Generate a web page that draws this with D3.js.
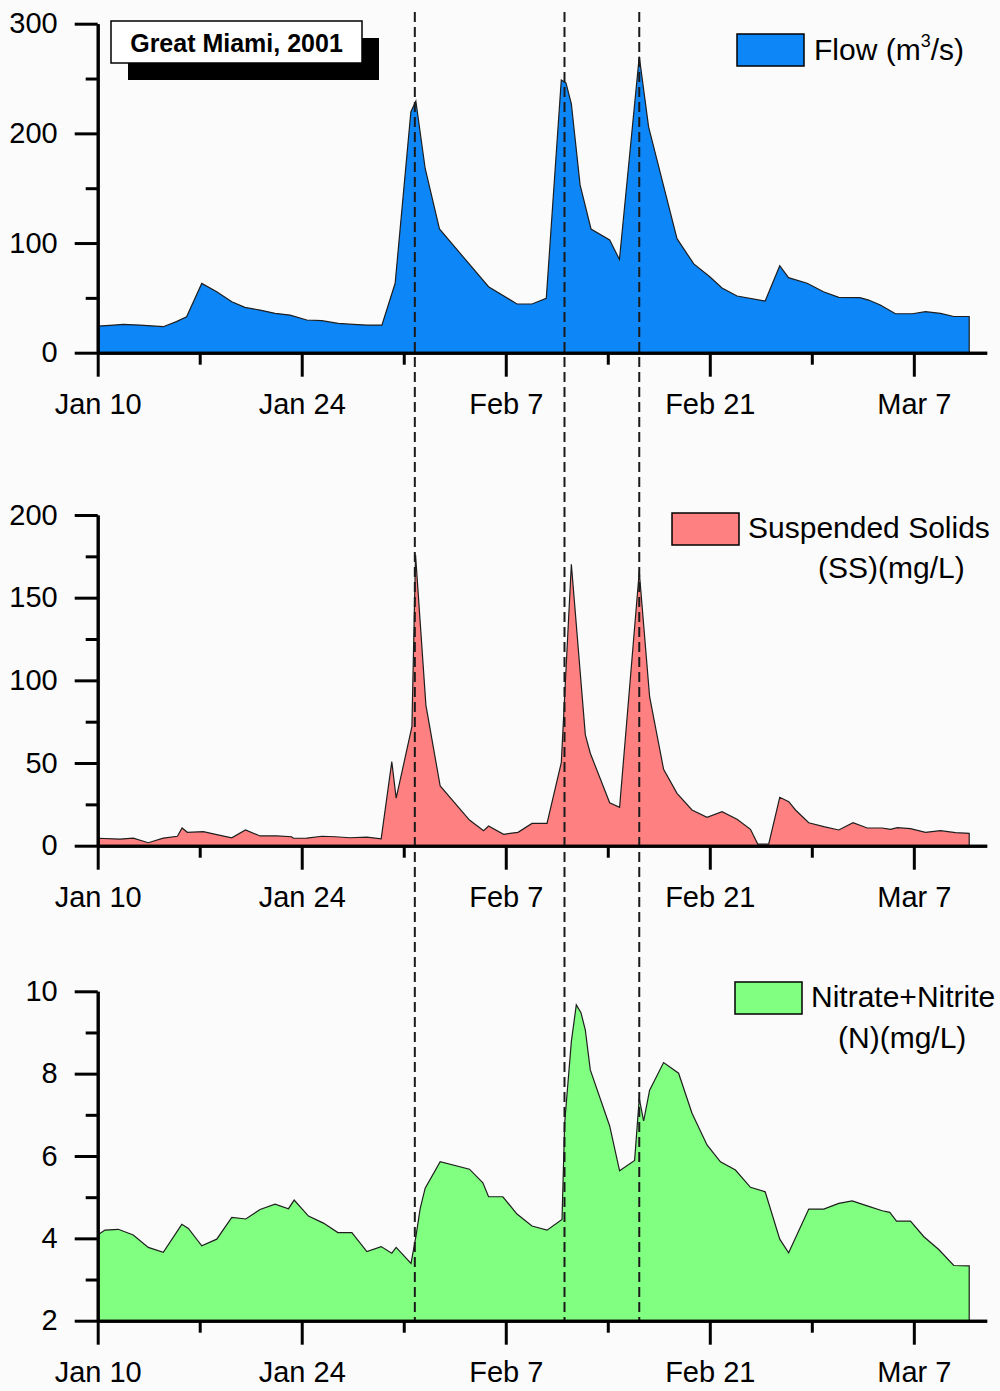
<!DOCTYPE html>
<html lang="en">
<head>
  <meta charset="UTF-8">
  <title>Great Miami, 2001</title>
  <style>
    body { margin: 0; background: #fbfbfb; }
    svg { display: block; font-family: "Liberation Sans", Arial, sans-serif; }
    .axis path, .axis line { stroke: #000; stroke-width: 3; }
    .axis text { font-size: 29px; fill: #000; font-family: "Liberation Sans", Arial, sans-serif; }
    .legend text { font-size: 30px; fill: #000; }
  </style>
</head>
<body>
  <svg id="chart" width="1000" height="1391"></svg>

  <script src="https://d3js.org/d3.v7.min.js"></script>
  <script>
    // days after Jan 10, 2001
    const flowDay = [0, 0.84, 1.76, 2.9, 4.5, 5.4, 6.1, 7.14, 8.17, 9.2, 10.1, 11.14, 12.17, 13.2, 14.35, 15.38,
      16.5, 17.55, 18.47, 19.5, 20.41, 21.49, 21.83, 22.47, 23.45, 26.82, 28.77, 29.8, 30.78, 31.81, 32.13,
      32.5, 33.1, 33.85, 35.13, 35.8, 37.16, 37.8, 39.75, 40.9, 42.0, 42.84, 43.87, 45.8, 46.8, 47.4, 48.68,
      49.8, 50.85, 52.3, 52.9, 53.7, 54.74, 55.9, 56.8, 57.83, 58.74, 59.8];
    const flowValue = [24.3, 25, 25.8, 25.2, 23.7, 28.3, 32.8, 63.2, 55.6, 46.5, 41.3, 38.9, 35.9, 34.3, 29.8, 29.2,
      26.7, 25.8, 25.2, 25.2, 63.3, 219.8, 229.5, 168, 112.8, 60.2, 44.4, 44.4, 49.6, 248.7, 246,
      227, 153, 112.8, 102.8, 85, 270, 206, 104, 81, 69.3, 59, 51.7, 47.1, 79.3, 68.4, 63.3,
      55.6, 50.5, 50.2, 48, 43.5, 35.5, 35.5, 37.4, 35.9, 33, 33];

    const ssDay = [0, 1.53, 2.44, 3.47, 4.5, 5.47, 5.79, 6.15, 7.25, 8.17, 9.2, 10.14, 11.14, 12.29, 13.3, 13.43,
      14.35, 15.38, 16.3, 17.3, 18.47, 19.45, 20.18, 20.48, 21.56, 21.81, 22.52, 23.5, 25.51, 26.48, 26.82,
      27.85, 28.84, 29.8, 30.83, 31.81, 32.5, 33.46, 33.8, 35.13, 35.81, 37.16, 37.87, 38.83, 39.75, 40.78,
      41.81, 42.84, 43.87, 44.79, 45.29, 46.04, 46.8, 47.42, 47.88, 48.79, 49.82, 50.85, 51.83, 52.8, 53.83,
      54.4, 54.86, 55.77, 56.8, 57.83, 58.86, 59.8];
    const ssValue = [4.5, 4.0, 4.6, 1.8, 4.6, 5.7, 10.7, 8.1, 8.5, 6.7, 4.8, 9.5, 5.9, 5.9, 5.4, 4.5,
      4.6, 5.7, 5.4, 4.8, 5.2, 4.2, 50.8, 28.7, 72, 175.8, 85, 36.1, 15.5, 9.1, 11.9,
      6.9, 8.1, 13.5, 13.5, 50.2, 170.2, 67, 55.9, 26, 23.2, 165.7, 90.1, 46.2, 31.7, 21.6,
      17.2, 20.6, 16, 9.9, 1, 1, 29.3, 26.6, 21.6, 13.9, 11.5, 9.5, 13.9, 10.7, 10.7,
      9.9, 10.9, 10.3, 8.1, 9.1, 7.9, 7.5];

    const nDay = [0, 0.5, 1.41, 2.44, 3.47, 4.5, 5.77, 6.22, 7.14, 8.17, 9.2, 10.16, 11.14, 12.17, 13.09, 13.48,
      14.46, 15.49, 16.48, 17.44, 18.47, 19.45, 20.18, 20.48, 21.5, 21.85, 22.13, 22.47, 23.5, 25.51, 26.43,
      26.82, 27.8, 28.77, 29.8, 30.83, 31.86, 32.04, 32.5, 32.84, 33.16, 33.46, 33.8, 35.13, 35.81, 36.84,
      37.16, 37.46, 37.87, 38.83, 39.86, 40.78, 41.81, 42.73, 43.76, 44.79, 45.8, 46.8, 47.41, 48.79, 49.82,
      50.85, 51.77, 52.8, 53.83, 54.35, 54.81, 55.77, 56.69, 57.71, 58.74, 59.8];
    const nValue = [4.08, 4.2, 4.22, 4.08, 3.78, 3.66, 4.34, 4.24, 3.82, 3.98, 4.51, 4.47, 4.7, 4.83, 4.72, 4.93,
      4.54, 4.37, 4.14, 4.14, 3.68, 3.8, 3.64, 3.78, 3.39, 4.08, 4.73, 5.22, 5.86, 5.68, 5.35,
      5.01, 5.01, 4.59, 4.3, 4.2, 4.46, 6.79, 8.78, 9.67, 9.48, 9.06, 8.09, 6.73, 5.64, 5.89,
      7.4, 6.85, 7.6, 8.27, 8.01, 7.04, 6.27, 5.86, 5.66, 5.24, 5.13, 3.98, 3.65, 4.71, 4.71,
      4.85, 4.91, 4.79, 4.67, 4.63, 4.42, 4.42, 4.04, 3.73, 3.34, 3.33];

    // dashed markers (days after Jan 10)
    const eventDays = [21.76, 32.03, 37.16];
    const majorTickDays = [0, 14, 28, 42, 56];   // Jan 10, Jan 24, Feb 7, Feb 21, Mar 7
    const minorTickDays = [7, 21, 35, 49];
    const seriesNames = ["Flow", "Suspended Solids", "Nitrate+Nitrite"];

    const start = Date.UTC(2001, 0, 10);
    const toDate = d => new Date(start + d * 864e5);
    const svg = d3.select('#chart');

    const x = d3.scaleUtc()
      .domain([toDate(0), toDate(61)])
      .range([97.7, 986.7]);

    const panels = [
      { top: 23.7, bottom: 352.7, domain: [0, 300], major: d3.range(0, 301, 100), minor: d3.range(50, 300, 100),
        days: flowDay, values: flowValue, fill: '#0d86f8' },
      { top: 515, bottom: 845.7, domain: [0, 200], major: d3.range(0, 201, 50), minor: d3.range(25, 200, 50),
        days: ssDay, values: ssValue, fill: '#ff8080' },
      { top: 991.3, bottom: 1320.7, domain: [2, 10], major: d3.range(2, 11, 2), minor: d3.range(3, 10, 2),
        days: nDay, values: nValue, fill: '#80ff80' }
    ];

    const fmt = d3.utcFormat('%b %-d');

    panels.forEach(p => {
      const y = d3.scaleLinear().domain(p.domain).range([p.bottom, p.top]);
      const pts = p.days.map((d, i) => ({ date: toDate(d), v: p.values[i] }));
      const area = d3.area()
        .x(d => x(d.date))
        .y0(y(p.domain[0]))
        .y1(d => y(d.v));

      svg.append('path')
        .datum(pts)
        .attr('d', area)
        .attr('fill', p.fill)
        .attr('stroke', '#1e1e1e')
        .attr('stroke-width', 1.2);

      p.y = y;
    });

    // dashed event lines across all panels
    svg.selectAll('.event')
      .data(eventDays)
      .enter().append('line')
      .attr('x1', d => x(toDate(d)))
      .attr('x2', d => x(toDate(d)))
      .attr('y1', 12)
      .attr('y2', panels[2].bottom)
      .attr('stroke', '#1a1a1a')
      .attr('stroke-width', 2)
      .attr('stroke-dasharray', '10,5');

    panels.forEach(p => {
      const y = p.y;
      svg.append('g').attr('class', 'axis')
        .attr('transform', `translate(${x.range()[0]},0)`)
        .call(d3.axisLeft(y).tickValues(p.minor).tickSize(12).tickSizeOuter(0).tickFormat(''));
      svg.append('g').attr('class', 'axis')
        .attr('transform', `translate(${x.range()[0]},0)`)
        .call(d3.axisLeft(y).tickValues(p.major).tickSize(23).tickSizeOuter(0).tickPadding(17));

      svg.append('g').attr('class', 'axis')
        .attr('transform', `translate(0,${p.bottom})`)
        .call(d3.axisBottom(x).tickValues(minorTickDays.map(toDate)).tickSize(12).tickSizeOuter(0).tickFormat(''));
      svg.append('g').attr('class', 'axis')
        .attr('transform', `translate(0,${p.bottom})`)
        .call(d3.axisBottom(x).tickValues(majorTickDays.map(toDate)).tickSize(24).tickSizeOuter(0)
          .tickPadding(17).tickFormat(fmt));
    });

    // title box with shadow
    svg.append('rect').attr('x', 128).attr('y', 38).attr('width', 251).attr('height', 42).attr('fill', '#000');
    svg.append('rect').attr('x', 111).attr('y', 21).attr('width', 251).attr('height', 42)
      .attr('fill', '#fff').attr('stroke', '#000').attr('stroke-width', 1.5);
    svg.append('text').attr('x', 236.5).attr('y', 52).attr('text-anchor', 'middle')
      .attr('font-size', 25).attr('font-weight', 'bold').text('Great Miami, 2001');

    // legends
    const leg = svg.append('g').attr('class', 'legend');
    const swatches = [
      { x: 737, y: 34, fill: panels[0].fill },
      { x: 672, y: 513, fill: panels[1].fill },
      { x: 735, y: 982, fill: panels[2].fill }
    ];
    leg.selectAll('rect').data(swatches).enter().append('rect')
      .attr('x', d => d.x).attr('y', d => d.y).attr('width', 67).attr('height', 32)
      .attr('fill', d => d.fill).attr('stroke', '#000').attr('stroke-width', 1.5);

    const flowText = leg.append('text').attr('x', 814).attr('y', 60);
    flowText.append('tspan').text(seriesNames[0] + ' (m');
    flowText.append('tspan').attr('font-size', 18).attr('dy', -13).text('3');
    flowText.append('tspan').attr('dy', 13).text('/s)');

    leg.append('text').attr('x', 748).attr('y', 538).text(seriesNames[1]);
    leg.append('text').attr('x', 818).attr('y', 578).text('(SS)(mg/L)');
    leg.append('text').attr('x', 811).attr('y', 1007).text(seriesNames[2]);
    leg.append('text').attr('x', 838).attr('y', 1048).text('(N)(mg/L)');
  </script>
</body>
</html>
